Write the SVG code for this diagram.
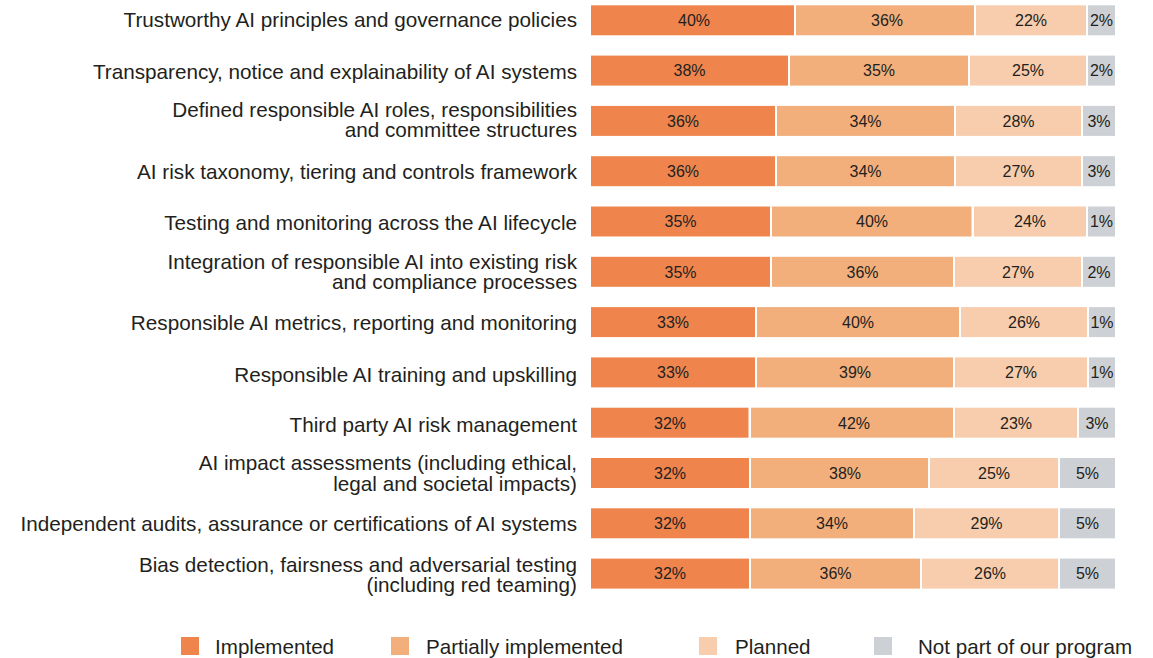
<svg xmlns="http://www.w3.org/2000/svg" width="1153" height="658" viewBox="0 0 1153 658">
<style>
.lbl{font-family:"Liberation Sans",Arial,sans-serif;font-size:20.7px;fill:#231f20;text-anchor:end}
.pct{font-family:"Liberation Sans",Arial,sans-serif;font-size:16px;fill:#231f20;text-anchor:middle}
.leg{font-family:"Liberation Sans",Arial,sans-serif;font-size:20.6px;fill:#231f20}
.c1{fill:#ef854d}.c2{fill:#f2af7c}.c3{fill:#f7cdad}.c4{fill:#cdd0d4}
</style>
<rect width="1153" height="658" fill="#ffffff"/>
<g id="row1">
<text class="lbl" x="577" y="26.5">Trustworthy AI principles and governance policies</text>
<rect class="c1" x="591" y="5.3" width="203" height="30"/><rect class="c2" x="796" y="5.3" width="178" height="30"/><rect class="c3" x="976" y="5.3" width="110" height="30"/><rect class="c4" x="1088" y="5.3" width="27" height="30"/>
<text class="pct" x="694" y="26.1">40%</text><text class="pct" x="887" y="26.1">36%</text><text class="pct" x="1031" y="26.1">22%</text><text class="pct" x="1101.5" y="26.1">2%</text>
</g>
<g id="row2">
<text class="lbl" x="577" y="79">Transparency, notice and explainability of AI systems</text>
<rect class="c1" x="591" y="55.6" width="197" height="30"/><rect class="c2" x="790" y="55.6" width="178" height="30"/><rect class="c3" x="970" y="55.6" width="116" height="30"/><rect class="c4" x="1088" y="55.6" width="27" height="30"/>
<text class="pct" x="689.5" y="76.4">38%</text><text class="pct" x="879" y="76.4">35%</text><text class="pct" x="1028" y="76.4">25%</text><text class="pct" x="1101.5" y="76.4">2%</text>
</g>
<g id="row3">
<text class="lbl" x="577" y="116.5">Defined responsible AI roles, responsibilities</text>
<text class="lbl" x="577" y="137">and committee structures</text>
<rect class="c1" x="591" y="105.9" width="184" height="30"/><rect class="c2" x="777" y="105.9" width="177" height="30"/><rect class="c3" x="956" y="105.9" width="125" height="30"/><rect class="c4" x="1083" y="105.9" width="32" height="30"/>
<text class="pct" x="683" y="126.7">36%</text><text class="pct" x="865.5" y="126.7">34%</text><text class="pct" x="1018.5" y="126.7">28%</text><text class="pct" x="1099" y="126.7">3%</text>
</g>
<g id="row4">
<text class="lbl" x="577" y="178.5">AI risk taxonomy, tiering and controls framework</text>
<rect class="c1" x="591" y="156.2" width="184" height="30"/><rect class="c2" x="777" y="156.2" width="177" height="30"/><rect class="c3" x="956" y="156.2" width="125" height="30"/><rect class="c4" x="1083" y="156.2" width="32" height="30"/>
<text class="pct" x="683" y="177">36%</text><text class="pct" x="865.5" y="177">34%</text><text class="pct" x="1018.5" y="177">27%</text><text class="pct" x="1099" y="177">3%</text>
</g>
<g id="row5">
<text class="lbl" x="577" y="229.5">Testing and monitoring across the AI lifecycle</text>
<rect class="c1" x="591" y="206.5" width="179" height="30"/><rect class="c2" x="772" y="206.5" width="199.5" height="30"/><rect class="c3" x="974" y="206.5" width="112" height="30"/><rect class="c4" x="1088" y="206.5" width="27" height="30"/>
<text class="pct" x="680.5" y="227.3">35%</text><text class="pct" x="872" y="227.3">40%</text><text class="pct" x="1030" y="227.3">24%</text><text class="pct" x="1101.5" y="227.3">1%</text>
</g>
<g id="row6">
<text class="lbl" x="577" y="268.5">Integration of responsible AI into existing risk</text>
<text class="lbl" x="577" y="289">and compliance processes</text>
<rect class="c1" x="591" y="256.8" width="179" height="30"/><rect class="c2" x="772" y="256.8" width="181" height="30"/><rect class="c3" x="955" y="256.8" width="126" height="30"/><rect class="c4" x="1083" y="256.8" width="32" height="30"/>
<text class="pct" x="680.5" y="277.6">35%</text><text class="pct" x="862.5" y="277.6">36%</text><text class="pct" x="1018" y="277.6">27%</text><text class="pct" x="1099" y="277.6">2%</text>
</g>
<g id="row7">
<text class="lbl" x="577" y="330">Responsible AI metrics, reporting and monitoring</text>
<rect class="c1" x="591" y="307.1" width="164" height="30"/><rect class="c2" x="757" y="307.1" width="202" height="30"/><rect class="c3" x="961" y="307.1" width="126" height="30"/><rect class="c4" x="1089" y="307.1" width="26" height="30"/>
<text class="pct" x="673" y="327.9">33%</text><text class="pct" x="858" y="327.9">40%</text><text class="pct" x="1024" y="327.9">26%</text><text class="pct" x="1102" y="327.9">1%</text>
</g>
<g id="row8">
<text class="lbl" x="577" y="381.5">Responsible AI training and upskilling</text>
<rect class="c1" x="591" y="357.4" width="164" height="30"/><rect class="c2" x="757" y="357.4" width="196" height="30"/><rect class="c3" x="955" y="357.4" width="132" height="30"/><rect class="c4" x="1089" y="357.4" width="26" height="30"/>
<text class="pct" x="673" y="378.2">33%</text><text class="pct" x="855" y="378.2">39%</text><text class="pct" x="1021" y="378.2">27%</text><text class="pct" x="1102" y="378.2">1%</text>
</g>
<g id="row9">
<text class="lbl" x="577" y="431.5">Third party AI risk management</text>
<rect class="c1" x="591" y="407.7" width="157.5" height="30"/><rect class="c2" x="751" y="407.7" width="202" height="30"/><rect class="c3" x="955" y="407.7" width="122" height="30"/><rect class="c4" x="1079" y="407.7" width="36" height="30"/>
<text class="pct" x="670" y="428.5">32%</text><text class="pct" x="854" y="428.5">42%</text><text class="pct" x="1016" y="428.5">23%</text><text class="pct" x="1097" y="428.5">3%</text>
</g>
<g id="row10">
<text class="lbl" x="577" y="470">AI impact assessments (including ethical,</text>
<text class="lbl" x="577" y="490.5">legal and societal impacts)</text>
<rect class="c1" x="591" y="458" width="158" height="30"/><rect class="c2" x="751" y="458" width="177" height="30"/><rect class="c3" x="930" y="458" width="128" height="30"/><rect class="c4" x="1060" y="458" width="55" height="30"/>
<text class="pct" x="670" y="478.8">32%</text><text class="pct" x="845" y="478.8">38%</text><text class="pct" x="994" y="478.8">25%</text><text class="pct" x="1087.5" y="478.8">5%</text>
</g>
<g id="row11">
<text class="lbl" x="577" y="531">Independent audits, assurance or certifications of AI systems</text>
<rect class="c1" x="591" y="508.3" width="158" height="30"/><rect class="c2" x="751" y="508.3" width="162" height="30"/><rect class="c3" x="915" y="508.3" width="143" height="30"/><rect class="c4" x="1060" y="508.3" width="55" height="30"/>
<text class="pct" x="670" y="529.1">32%</text><text class="pct" x="832" y="529.1">34%</text><text class="pct" x="986.5" y="529.1">29%</text><text class="pct" x="1087.5" y="529.1">5%</text>
</g>
<g id="row12">
<text class="lbl" x="577" y="571.5">Bias detection, fairsness and adversarial testing</text>
<text class="lbl" x="577" y="592">(including red teaming)</text>
<rect class="c1" x="591" y="558.6" width="158" height="30"/><rect class="c2" x="751" y="558.6" width="169" height="30"/><rect class="c3" x="922" y="558.6" width="136" height="30"/><rect class="c4" x="1060" y="558.6" width="55" height="30"/>
<text class="pct" x="670" y="579.4">32%</text><text class="pct" x="835.5" y="579.4">36%</text><text class="pct" x="990" y="579.4">26%</text><text class="pct" x="1087.5" y="579.4">5%</text>
</g>
<g id="legend">
<rect class="c1" x="181" y="637" width="18" height="18"/><text class="leg" x="215" y="654">Implemented</text>
<rect class="c2" x="391" y="637" width="18" height="18"/><text class="leg" x="426" y="654">Partially implemented</text>
<rect class="c3" x="699" y="637" width="18" height="18"/><text class="leg" x="735" y="654">Planned</text>
<rect class="c4" x="874" y="637" width="18" height="18"/><text class="leg" x="918" y="654">Not part of our program</text>
</g>
<g id="connectors"/>
</svg>
